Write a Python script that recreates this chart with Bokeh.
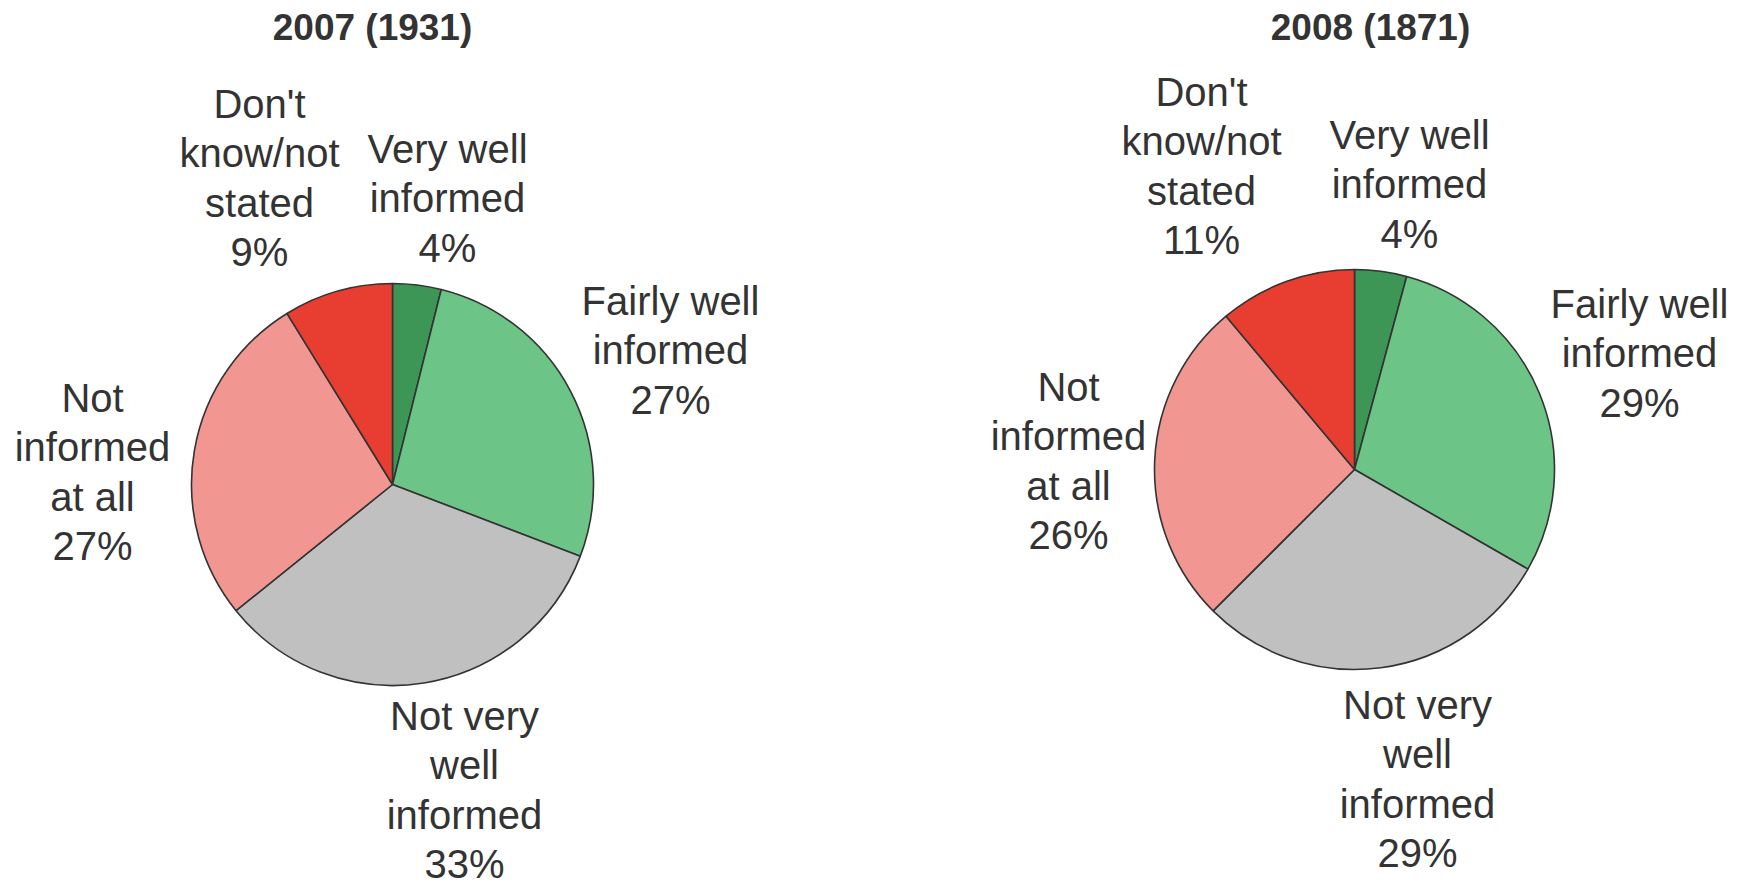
import math
from bokeh.plotting import figure
from bokeh.models import Range1d, ColumnDataSource
from bokeh.core.properties import value
from bokeh.embed import file_html
from bokeh.resources import INLINE

# ---- data ----
categories = ["Very well\ninformed", "Fairly well\ninformed", "Not very\nwell\ninformed",
              "Not\ninformed\nat all", "Don't\nknow/not\nstated"]
colors = ["#3d9656", "#6cc587", "#c0c0c0", "#f19691", "#e83e32"]
titles = ["2007 (1931)", "2008 (1871)"]
values_2007 = [3.9, 26.9, 33.4, 27.0, 8.8]
values_2008 = [4.2, 29.1, 29.2, 26.4, 11.1]
pct_labels_2007 = ["4%", "27%", "33%", "27%", "9%"]
pct_labels_2008 = ["4%", "29%", "29%", "26%", "11%"]

# ---- layout (page pixel coords) ----
W, H = 1740, 886
def X(x): return x
def Y(y): return H - y

pies = [
    dict(values=values_2007, pcts=pct_labels_2007, title=titles[0], cx=392, cy=484, r=201,
         tx=372, ty=27,
         lab=[(447, 148), (670, 300), (464, 715), (92, 397), (259, 103)]),
    dict(values=values_2008, pcts=pct_labels_2008, title=titles[1], cx=1354, cy=469, r=200,
         tx=1370, ty=27,
         lab=[(1409, 134), (1639, 303), (1417, 704), (1068, 386), (1201, 91)]),
]
LINE = 49.5

p = figure(width=W, height=H, x_range=Range1d(0, W), y_range=Range1d(0, H),
           output_backend="svg", toolbar_location=None, min_border=0)
p.axis.visible = False
p.grid.visible = False
p.outline_line_color = None
p.background_fill_color = "white"

for pie in pies:
    vals = pie["values"]
    total = sum(vals)
    starts, ends = [], []
    cum = 0.0
    for v in vals:
        starts.append(math.pi / 2 - 2 * math.pi * cum / total)
        cum += v
        ends.append(math.pi / 2 - 2 * math.pi * cum / total)
    src = ColumnDataSource(dict(x=[X(pie["cx"])] * len(vals), y=[Y(pie["cy"])] * len(vals),
                                start=starts, end=ends, color=colors))
    p.wedge(x="x", y="y", radius=pie["r"], start_angle="start", end_angle="end",
            direction="clock", fill_color="color", line_color="#333333", line_width=1.6,
            source=src)

    p.text(x=[X(pie["tx"])], y=[Y(pie["ty"])], text=[pie["title"]],
           text_font=value("Liberation Sans"), text_font_style="bold",
           text_font_size="37px", text_color="#333333",
           text_align="center", text_baseline="middle")

    xs, ys, ts = [], [], []
    for cat, pct, (lx, ly) in zip(categories, pie["pcts"], pie["lab"]):
        lines = cat.split("\n") + [pct]
        for i, ln in enumerate(lines):
            xs.append(X(lx))
            ys.append(Y(ly + i * LINE))
            ts.append(ln)
    p.text(x=xs, y=ys, text=ts, text_font=value("Liberation Sans"),
           text_font_size="40px", text_color="#333333",
           text_align="center", text_baseline="middle")

open("out.html", "w").write(file_html(p, INLINE))
